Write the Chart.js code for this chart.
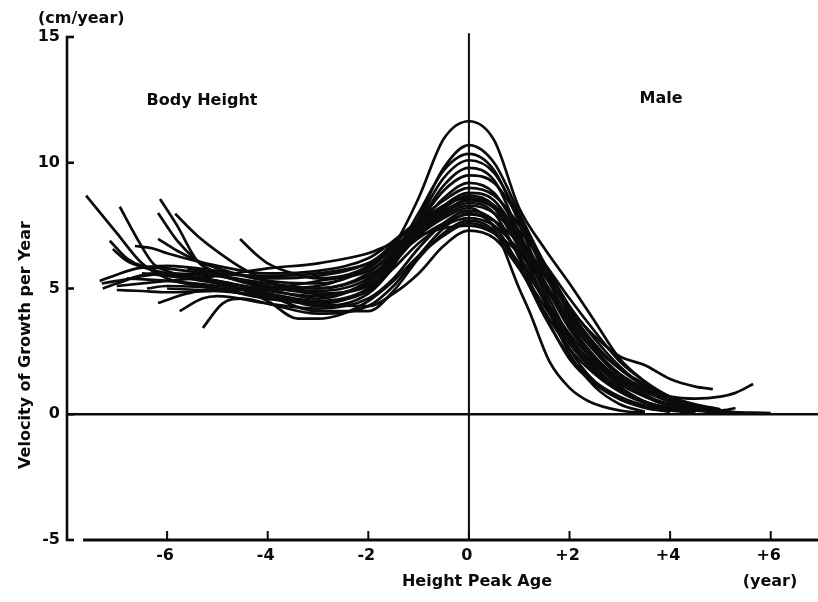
<!DOCTYPE html>
<html>
<head>
<meta charset="utf-8">
<script src="https://cdn.jsdelivr.net/npm/chart.js@4.4.1/dist/chart.umd.min.js"></script>
<style>
  html, body { margin: 0; padding: 0; background: #ffffff; }
  #wrap { width: 818px; height: 602px; position: relative; }
</style>
</head>
<body>
<div id="wrap"><canvas id="c" width="818" height="602"></canvas></div>
<script>
// Height velocity (cm/year) against years from the age of peak height velocity,
// one individual growth curve per array: [years from peak, cm/year].
const subj01 = [[-4.55,6.97],[-4.2,6.3],[-4,6.0],[-3.5,5.6],[-3,5.4],[-2.5,5.5],[-2,5.9],[-1.5,6.7],[-1,8.6],[-0.5,10.95],[0,11.65],[0.5,10.9],[1,8.2],[1.5,6.6],[2,5.2],[2.5,3.7],[3,2.2],[3.5,1.3],[4,0.6],[4.4,0.3]];
const subj02 = [[-7.61,8.69],[-7,7.2],[-6.5,6.0],[-6,5.4],[-5,5.0],[-4,4.6],[-3,4.5],[-2,5.0],[-1.5,6.0],[-1,7.8],[-0.5,9.8],[0,10.7],[0.5,10.0],[1,8.0],[1.5,6.0],[2,4.2],[2.5,2.6],[3,1.5],[3.5,0.8],[4,0.3],[4.5,0.1]];
const subj03 = [[-6.14,8.56],[-5.8,7.5],[-5.4,6.1],[-5,5.6],[-4,5.0],[-3,4.6],[-2,5.3],[-1.5,6.3],[-1,8.0],[-0.5,9.7],[0,10.35],[0.5,9.7],[1,7.6],[1.5,5.2],[2,3.5],[2.5,2.1],[3,1.1],[3.5,0.5],[4,0.15]];
const subj04 = [[-6.94,8.25],[-6.6,7.0],[-6.28,6.0],[-6,5.7],[-5,5.2],[-4,4.8],[-3,4.3],[-2,4.8],[-1.5,5.9],[-1,7.7],[-0.5,9.4],[0,10.1],[0.5,9.6],[1,7.8],[1.5,5.6],[2,3.8],[2.5,2.5],[3,1.5],[3.5,0.9],[4,0.5],[4.5,0.2],[5,0.1]];
const subj05 = [[-5.84,7.97],[-5.4,7.1],[-4.95,6.4],[-4.5,5.8],[-4,5.3],[-3,4.8],[-2,5.2],[-1.5,6.2],[-1,7.6],[-0.5,9.1],[0,9.8],[0.5,9.3],[1,7.2],[1.5,5.0],[2,3.1],[2.5,1.9],[3,1.0],[3.5,0.5],[4,0.2]];
const subj06 = [[-6.18,8.0],[-5.8,6.9],[-5.4,6.1],[-5,5.6],[-4,5.2],[-3,5.0],[-2,5.6],[-1.5,6.5],[-1,7.6],[-0.5,8.9],[0,9.5],[0.5,9.2],[1,7.8],[1.5,6.0],[2,4.3],[2.5,3.0],[3,1.9],[3.5,1.1],[4,0.6],[4.5,0.3],[5,0.1]];
const subj07 = [[-6.18,6.97],[-5.8,6.5],[-5.4,6.1],[-5,5.8],[-4,5.3],[-3,5.2],[-2,5.8],[-1.5,6.6],[-1,7.5],[-0.5,8.6],[0,9.2],[0.5,8.8],[1,7.2],[1.5,5.2],[2,3.4],[2.5,2.2],[3,1.3],[3.5,0.7],[4,0.3],[4.5,0.1]];
const subj08 = [[-6.64,6.69],[-6.3,6.6],[-6,6.4],[-5,5.9],[-4,5.6],[-3,5.7],[-2,6.2],[-1.5,6.9],[-1,7.7],[-0.5,8.5],[0,9.0],[0.5,8.7],[1,7.5],[1.5,5.8],[2,4.0],[2.5,2.6],[3,1.6],[3.5,1.0],[4,0.5],[4.5,0.2],[5,0.05]];
const subj09 = [[-7.14,6.9],[-6.8,6.2],[-6.5,5.9],[-6,5.8],[-5,5.5],[-4,5.1],[-3,4.9],[-2,5.4],[-1.5,6.4],[-1,7.4],[-0.5,8.3],[0,8.8],[0.5,8.5],[1,7.0],[1.5,4.8],[2,2.6],[2.5,1.3],[3,0.6],[3.5,0.25],[4,0.1]];
const subj10 = [[-7.08,6.57],[-6.8,6.1],[-6.4,5.8],[-6,5.6],[-5,5.3],[-4,5.0],[-3,5.1],[-2,5.9],[-1.5,6.8],[-1,7.6],[-0.5,8.3],[0,8.6],[0.5,8.2],[1,6.6],[1.5,4.6],[2,3.0],[2.5,2.0],[3,1.2],[3.5,0.7],[4,0.35],[4.5,0.15],[5,0.05]];
const subj11 = [[-7.34,5.3],[-7,5.55],[-6.6,5.8],[-6,5.9],[-5,5.7],[-4,5.4],[-3,5.5],[-2,6.0],[-1.5,6.7],[-1,7.4],[-0.5,8.1],[0,8.5],[0.5,8.2],[1,7.0],[1.5,5.3],[2,3.6],[2.5,2.3],[3,1.4],[3.5,0.9],[4,0.5],[4.5,0.25],[5,0.1]];
const subj12 = [[-7.28,5.0],[-7,5.2],[-6.28,5.6],[-6,5.6],[-5,5.3],[-4,4.9],[-3,4.7],[-2,5.3],[-1.5,6.4],[-1,7.3],[-0.5,8.0],[0,8.4],[0.5,8.0],[1,6.2],[1.5,4.0],[2,2.2],[2.5,1.2],[3,0.6],[3.5,0.3],[4,0.1]];
const subj13 = [[-7.0,4.94],[-6.5,4.9],[-6,4.85],[-5,4.9],[-4,5.0],[-3,5.3],[-2,5.7],[-1.5,6.4],[-1,7.2],[-0.5,7.9],[0,8.3],[0.5,8.0],[1,7.0],[1.5,5.6],[2,4.1],[2.5,2.8],[3,1.8],[3.5,1.1],[4,0.6],[4.5,0.3],[5,0.1]];
const subj14 = [[-6.18,4.42],[-5.6,4.8],[-5,5.0],[-4,5.0],[-3,4.8],[-2,5.1],[-1.5,6.0],[-1,7.1],[-0.5,7.8],[0,8.2],[0.5,7.4],[1,5.0],[1.2,4.1],[1.6,2.1],[2,1.05],[2.4,0.5],[3,0.15],[3.5,0.05]];
const subj15 = [[-5.75,4.1],[-5.3,4.6],[-5,4.7],[-4,4.4],[-3,4.2],[-2,4.6],[-1.5,5.4],[-1,6.6],[-0.5,7.6],[0,8.1],[0.5,7.7],[1,6.3],[1.5,4.5],[2,2.9],[2.5,1.8],[3,1.0],[3.5,0.5],[4,0.2]];
const subj16 = [[-5.29,3.43],[-4.9,4.4],[-4.5,4.6],[-4,4.4],[-3,4.0],[-2,4.3],[-1.5,5.1],[-1,6.3],[-0.5,7.4],[0,8.0],[0.5,7.5],[1,5.9],[1.5,3.9],[2,2.3],[2.5,1.3],[3,0.7],[3.5,0.35],[4,0.15],[4.5,0.05]];
const subj17 = [[-7.3,5.2],[-7,5.3],[-6,5.6],[-5,5.5],[-4,5.2],[-3,5.0],[-2,5.5],[-1.5,6.2],[-1,7.0],[-0.5,7.6],[0,7.95],[0.5,7.7],[1,6.8],[1.5,5.5],[2,4.2],[2.5,3.1],[3,2.3],[3.5,1.95],[4,1.4],[4.5,1.1],[4.85,1.0]];
const subj18 = [[-6.8,5.4],[-6,5.3],[-5,5.1],[-4,4.8],[-3,4.5],[-2,4.9],[-1.5,5.8],[-1,6.8],[-0.5,7.5],[0,7.8],[0.5,7.5],[1,6.5],[1.5,5.1],[2,3.7],[2.5,2.5],[3,1.6],[3.5,1.0],[4,0.7],[4.5,0.62],[5,0.7],[5.3,0.85],[5.65,1.2]];
const subj19 = [[-6.5,5.6],[-6,5.5],[-5,5.2],[-4,4.7],[-3,4.1],[-2,4.1],[-1.5,4.9],[-1,6.2],[-0.5,7.2],[0,7.7],[0.5,7.3],[1,5.8],[1.5,4.1],[2,2.6],[2.5,1.6],[3,0.9],[3.5,0.5],[4,0.25],[4.5,0.15],[5,0.15],[5.3,0.25]];
const subj20 = [[-5.5,5.4],[-5,5.3],[-4,4.5],[-3.4,3.8],[-3,3.8],[-2.5,4.0],[-2,4.5],[-1.5,5.3],[-1,6.3],[-0.5,7.1],[0,7.6],[0.5,7.2],[1,6.0],[1.5,4.6],[2,3.2],[2.5,2.1],[3,1.3],[3.5,0.75],[4,0.4],[4.5,0.2],[5,0.1],[6.0,0.05]];
const subj21 = [[-7.0,5.1],[-6,5.3],[-5,5.5],[-4,5.8],[-3,6.0],[-2,6.4],[-1.5,6.8],[-1,7.1],[-0.5,7.4],[0,7.5],[0.5,7.2],[1,6.4],[1.5,5.2],[2,3.9],[2.5,2.7],[3,1.8],[3.5,1.2],[4,0.7],[4.5,0.4],[5,0.2]];
const subj22 = [[-6.0,5.0],[-5,4.9],[-4,4.7],[-3,4.4],[-2,4.3],[-1.5,4.8],[-1,5.6],[-0.5,6.7],[0,7.3],[0.5,7.0],[1,5.8],[1.5,4.3],[2,2.8],[2.5,1.7],[3,0.9],[3.5,0.45],[4,0.2],[4.5,0.1]];
const subj23 = [[-5.6,5.8],[-5,5.6],[-4,5.5],[-3,5.6],[-2,6.0],[-1.5,6.6],[-1,7.4],[-0.5,8.2],[0,8.7],[0.5,8.3],[1,6.8],[1.5,4.5],[2,2.4],[2.5,1.1],[3,0.4],[3.5,0.1]];
const subj24 = [[-6.4,5.0],[-6,5.1],[-5,5.0],[-4,4.6],[-3,4.4],[-2,5.0],[-1.5,6.1],[-1,7.2],[-0.5,8.0],[0,8.55],[0.5,8.3],[1,7.3],[1.5,6.0],[2,4.6],[2.5,3.3],[3,2.1],[3.5,1.3],[4,0.7],[4.5,0.35],[5,0.15],[5.5,0.05]];

const growthCurves = [subj01, subj02, subj03, subj04, subj05, subj06, subj07, subj08,
  subj09, subj10, subj11, subj12, subj13, subj14, subj15, subj16,
  subj17, subj18, subj19, subj20, subj21, subj22, subj23, subj24];

// Axis ticks and labels
const velocityTicks = [-5, 0, 5, 10, 15];
const ageTicks = [-6, -4, -2, 0, 2, 4, 6];
const ageTickLabels = ['-6', '-4', '-2', '0', '+2', '+4', '+6'];

const INK = '#0b0b0b';
const FONT = '"DejaVu Sans", "Liberation Sans", sans-serif';

// Draws the axes, reference lines and all annotations by hand
const frame = {
  id: 'frame',
  afterDraw(chart) {
    const { ctx } = chart;
    const xs = chart.scales.x, ys = chart.scales.y;
    const X = v => xs.getPixelForValue(v);
    const Y = v => ys.getPixelForValue(v);
    const axisX = X(-8.01) + 1;
    ctx.save();
    ctx.strokeStyle = INK;
    ctx.lineCap = 'butt';

    // vertical axis with ticks on its right side
    ctx.lineWidth = 2.6;
    ctx.beginPath();
    ctx.moveTo(axisX, Y(15) - 1);
    ctx.lineTo(axisX, Y(-5) + 1);
    ctx.stroke();
    velocityTicks.forEach(v => {
      ctx.beginPath();
      ctx.moveTo(axisX - 1, Y(v));
      ctx.lineTo(axisX + 7, Y(v));
      ctx.stroke();
    });

    // horizontal axis at the bottom, ticks pointing up
    ctx.lineWidth = 3;
    ctx.beginPath();
    ctx.moveTo(X(-7.67), Y(-5));
    ctx.lineTo(chart.width, Y(-5));
    ctx.stroke();
    ctx.lineWidth = 2;
    ageTicks.forEach(a => {
      ctx.beginPath();
      ctx.moveTo(X(a), Y(-5));
      ctx.lineTo(X(a), Y(-5) - 9);
      ctx.stroke();
    });

    // zero velocity line and the peak-age line
    ctx.lineWidth = 2.6;
    ctx.beginPath();
    ctx.moveTo(axisX, Y(0));
    ctx.lineTo(chart.width, Y(0));
    ctx.stroke();
    ctx.lineWidth = 2;
    ctx.beginPath();
    ctx.moveTo(X(0), Y(15.15));
    ctx.lineTo(X(0), Y(-5));
    ctx.stroke();

    // texts
    ctx.fillStyle = INK;
    ctx.font = 'bold 16px ' + FONT;
    ctx.textBaseline = 'middle';
    ctx.textAlign = 'right';
    velocityTicks.forEach(v => ctx.fillText(String(v), 60, Y(v)));
    ctx.textAlign = 'center';
    ageTicks.forEach((a, i) => ctx.fillText(ageTickLabels[i], X(a) - 2, 556));

    ctx.textAlign = 'left';
    ctx.fillText('(cm/year)', 38, 19);
    ctx.textAlign = 'center';
    ctx.fillText('Height Peak Age', 477, 582);
    ctx.fillText('(year)', 770, 582);

    ctx.fillText('Body Height', 202, 101);
    ctx.fillText('Male', 661, 99);

    ctx.save();
    ctx.translate(26, 345);
    ctx.rotate(-Math.PI / 2);
    ctx.font = 'bold 16px ' + FONT;
    ctx.fillText('Velocity of Growth per Year', 0, 0);
    ctx.restore();

    ctx.restore();
  }
};

new Chart(document.getElementById('c'), {
  type: 'scatter',
  data: {
    datasets: growthCurves.map(pts => ({
      data: pts.map(([x, y]) => ({ x, y })),
      showLine: true,
      borderColor: INK,
      borderWidth: 2.7,
      pointRadius: 0,
      cubicInterpolationMode: 'monotone',
      fill: false
    }))
  },
  options: {
    responsive: false,
    animation: false,
    devicePixelRatio: 1,
    layout: { padding: { left: 66, right: 0, top: 37, bottom: 62 } },
    plugins: { legend: { display: false }, tooltip: { enabled: false } },
    scales: {
      x: { type: 'linear', min: -8.01, max: 6.94, display: false },
      y: { type: 'linear', min: -5, max: 15, display: false }
    }
  },
  plugins: [frame]
});
</script>
</body>
</html>
